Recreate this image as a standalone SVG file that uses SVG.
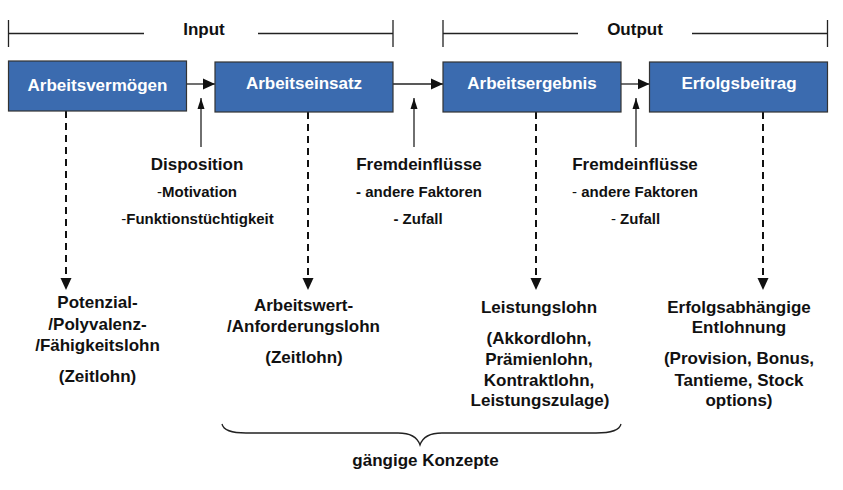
<svg xmlns="http://www.w3.org/2000/svg" width="843" height="490" viewBox="0 0 843 490">
<style>
text{font-family:"Liberation Sans",Arial,sans-serif;font-weight:bold;fill:#111;text-anchor:middle}
.big{font-size:17px}
.sub{font-size:15px}
.box rect{fill:#3b6baf;stroke:#333;stroke-width:1.2}
.box text{fill:#fff;font-size:17px}
.ln{stroke:#222;stroke-width:1.3;fill:none}
.dash{stroke:#111;stroke-width:2;stroke-dasharray:7 5;fill:none}
.thin{font-weight:normal}
</style>
<defs>
<marker id="ah" markerUnits="userSpaceOnUse" markerWidth="13" markerHeight="12" refX="12" refY="6" orient="auto">
<path d="M0,0.5 L12,6 L0,11.5 Z" fill="#111"/>
</marker>
<marker id="at" markerUnits="userSpaceOnUse" markerWidth="12" markerHeight="8" refX="11" refY="4" orient="auto">
<path d="M0,0.5 L11,4 L0,7.5 Z" fill="#111"/>
</marker>
</defs>

<g id="input-bracket">
<path class="ln" d="M8.5,20 V47 M8.5,33.5 H144 M258,33.5 H393 M393,20 V47"/>
<text class="big" x="204" y="35">Input</text>
</g>
<g id="output-bracket">
<path class="ln" d="M443,20 V47 M443,33.5 H578 M692,33.5 H827.5 M827.5,20 V47"/>
<text class="big" x="635" y="35">Output</text>
</g>

<g id="connectors">
<line class="ln" x1="187" y1="84" x2="215" y2="84" marker-end="url(#ah)"/>
<line class="ln" x1="393" y1="84" x2="443" y2="84" marker-end="url(#ah)"/>
<line class="ln" x1="621" y1="84" x2="649.5" y2="84" marker-end="url(#ah)"/>
<line class="ln" x1="201" y1="147" x2="201" y2="98" marker-end="url(#at)"/>
<line class="ln" x1="414" y1="147" x2="414" y2="98" marker-end="url(#at)"/>
<line class="ln" x1="636" y1="147" x2="636" y2="98" marker-end="url(#at)"/>
<line class="dash" x1="66" y1="111" x2="66" y2="290" marker-end="url(#ah)"/>
<line class="dash" x1="308" y1="112" x2="308" y2="290" marker-end="url(#ah)"/>
<line class="dash" x1="536" y1="112" x2="536" y2="290" marker-end="url(#ah)"/>
<line class="dash" x1="763" y1="112" x2="763" y2="290" marker-end="url(#ah)"/>
</g>

<g id="arbeitsvermoegen" class="box">
<rect x="8.5" y="61" width="178" height="50"/>
<text x="97.5" y="91">Arbeitsvermögen</text>
</g>
<g id="arbeitseinsatz" class="box">
<rect x="215" y="62" width="178" height="50"/>
<text x="304" y="89">Arbeitseinsatz</text>
</g>
<g id="arbeitsergebnis" class="box">
<rect x="443" y="62" width="178" height="50"/>
<text x="532" y="89">Arbeitsergebnis</text>
</g>
<g id="erfolgsbeitrag" class="box">
<rect x="649.5" y="62" width="178" height="50"/>
<text x="739" y="89">Erfolgsbeitrag</text>
</g>

<g id="disposition">
<text class="big" x="197" y="170">Disposition</text>
<text class="sub" x="197" y="197"><tspan class="thin">-</tspan>Motivation</text>
<text class="sub" x="197.5" y="224"><tspan class="thin">-</tspan>Funktionstüchtigkeit</text>
</g>
<g id="fremdeinfluesse-1">
<text class="big" x="419" y="170">Fremdeinflüsse</text>
<text class="sub" x="419" y="197">- andere Faktoren</text>
<text class="sub" x="418" y="224">- Zufall</text>
</g>
<g id="fremdeinfluesse-2">
<text class="big" x="635" y="170">Fremdeinflüsse</text>
<text class="sub" x="635" y="197"><tspan class="thin">-</tspan> andere Faktoren</text>
<text class="sub" x="635.5" y="224"><tspan class="thin">-</tspan> Zufall</text>
</g>

<g id="potenziallohn">
<text class="big" x="97.5" y="307.5">Potenzial-</text>
<text class="big" x="97.5" y="329.5">/Polyvalenz-</text>
<text class="big" x="97.5" y="351">/Fähigkeitslohn</text>
<text class="big" x="97.5" y="382">(Zeitlohn)</text>
</g>
<g id="anforderungslohn">
<text class="big" x="303.5" y="311">Arbeitswert-</text>
<text class="big" x="303.5" y="332">/Anforderungslohn</text>
<text class="big" x="304" y="363">(Zeitlohn)</text>
</g>
<g id="leistungslohn">
<text class="big" x="539" y="312.5">Leistungslohn</text>
<text class="big" x="539" y="343.5">(Akkordlohn,</text>
<text class="big" x="539" y="364.5">Prämienlohn,</text>
<text class="big" x="539" y="385.5">Kontraktlohn,</text>
<text class="big" x="540" y="406">Leistungszulage)</text>
</g>
<g id="erfolgsabhaengig">
<text class="big" x="739" y="312.5">Erfolgsabhängige</text>
<text class="big" x="739" y="333">Entlohnung</text>
<text class="big" x="739" y="364">(Provision, Bonus,</text>
<text class="big" x="739" y="385.5">Tantieme, Stock</text>
<text class="big" x="739" y="406">options)</text>
</g>

<g id="gaengige-konzepte">
<path class="ln" d="M222,424 Q224,433 246,433 L398,433 Q416,433 420,445 Q424,433 442,433 L596,433 Q619,433 621,424"/>
<text class="big" x="425.5" y="466">gängige Konzepte</text>
</g>
</svg>
